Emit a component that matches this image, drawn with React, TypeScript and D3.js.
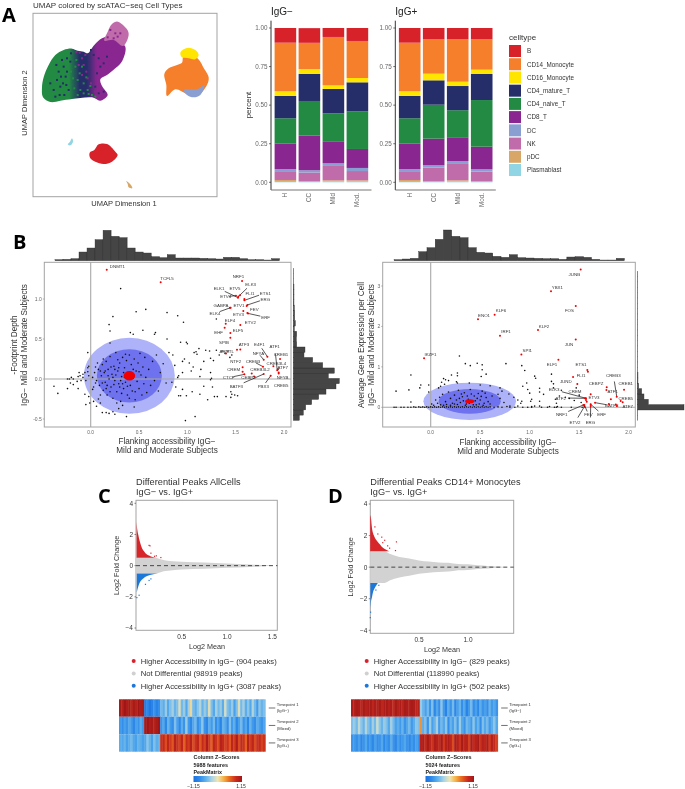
import React from "react";
import * as d3 from "d3";

const FONT = "'Liberation Sans', Arial, sans-serif";
type P = [number, number];
type TF = [string, number, number, number, number, number?];

/* ---------- panel A: UMAP outlines (arbitrary UMAP units) ---------- */
const umapT: P[] = [[215,146],[232,152],[250,155],[262,160],[282,135],[305,115],[332,108],[352,122],[375,140],[366,182],[345,205],[320,225],[300,238],[305,258],[322,285],[300,302],[275,292],[215,297],[180,302],[150,306],[128,292],[125,262],[130,232],[145,195],[165,165],[190,150]];
const umapNK: P[] = [[352,65],[335,72],[320,100],[312,122],[340,120],[368,138],[385,105],[380,88]];
const umapCD14: P[] = [[492,222],[505,205],[530,195],[545,188],[550,168],[585,170],[600,185],[608,200],[625,232],[620,255],[590,288],[560,282],[525,268],[500,288],[498,255]];
const umapCD16: P[] = [[565,143],[585,150],[595,165],[585,178],[565,175],[545,172],[540,158],[550,148]];
const umapDC: P[] = [[550,270],[590,268],[612,255],[600,285],[580,292],[560,285]];
const umapB: P[] = [[295,433],[320,432],[345,455],[352,465],[335,485],[310,492],[285,485],[270,475],[268,458],[282,450]];
const umapPDC: P[] = [[378,543],[392,555],[396,565],[385,562],[382,552]];
const umapPlasma: P[] = [[215,415],[218,425],[210,436],[202,433],[209,425]];
const umapNavySpeck: P[] = [[190,200],[196,230],[180,260],[200,175],[170,240],[205,270],[192,285],[160,270],[175,215],[188,250],[200,215],[210,185],[150,250],[168,195],[185,180],[178,285],[198,255],[212,160],[165,290],[182,230],[295,175],[300,200],[290,220],[310,190],[280,165],[272,150],[320,170],[285,260],[295,280],[310,275]];
const umapGreenSpeck: P[] = [[225,200],[232,240],[240,270],[250,280],[222,265],[238,220],[218,235],[262,270],[275,285],[228,180],[250,250],[265,282],[285,290],[270,258],[212,215],[245,200],[258,232],[232,285]];
const umapCD8Speck: P[] = [[255,165],[245,175],[238,158],[228,156],[250,195],[245,225],[262,235],[272,250],[285,275],[300,290],[258,215],[235,195],[345,100],[330,90],[352,110],[322,112],[360,100],[340,115]];

/* ---------- panel A: stacked bars ---------- */
const cellTypes = ["B","CD14_Monocyte","CD16_Monocyte","CD4_mature_T","CD4_naive_T","CD8_T","DC","NK","pDC","Plasmablast"];
const cellColors = ["#D7202A","#F57F2B","#FFE500","#272E6A","#208A42","#89288F","#8A9FD1","#C06CAB","#D8A767","#90D5E4"];
const conditions = ["H","CC","Mild","Mod."];
const barTicks = [0,.25,.5,.75,1];
const shareB = [.095,.095,.058,.084,.095,.073,.073,.073];
const shareCD14 = [.315,.170,.314,.240,.315,.223,.275,.197];
const shareCD16 = [.030,.032,.023,.028,.030,.043,.028,.028];
const shareMature = [.145,.175,.158,.188,.145,.158,.157,.169];
const shareNaive = [.165,.225,.181,.244,.165,.220,.175,.302];
const shareCD8 = [.165,.224,.143,.123,.165,.173,.154,.147];
const shareDC = [.013,.015,.017,.020,.013,.015,.019,.015];
const shareNK = [.057,.057,.093,.060,.057,.089,.106,.063];
const sharePDC = [.012,.003,.007,.008,.012,.003,.007,.003];
const sharePlasma = [.003,.003,.006,.005,.003,.003,.006,.003];
const allShares = [shareB,shareCD14,shareCD16,shareMature,shareNaive,shareCD8,shareDC,shareNK,sharePDC,sharePlasma];

/* ---------- panel B ---------- */
const histTopB = [3,4,6,26,38,63,91,73,69,38,26,23,12,9,18,8,8,8,7,6,5,10,10,6,3,3,2,6];
const histSideB = [18,30,37,55,76,98,128,138,105,123,88,58,32,35,10,9,10,3,6,4,4,3,2,2,2,2,1,1,1];
const tfB: TF[] = [
["DNMT1",.166,1.367,.276,1.408],["TCFL5",.724,1.208,.79,1.26],["NRF1",1.566,1.225,1.528,1.283],["ELK3",1.528,1.03,1.655,1.179,1],
["ETV5",1.545,1.046,1.493,1.133],["ELK1",1.524,1.017,1.328,1.129,1],["ETV4",1.503,1.042,1.397,1.029,1],["FLI1",1.59,1.0,1.648,1.067],
["ETS1",1.59,.983,1.807,1.075,1],["ERG",1.621,.925,1.807,1.0,1],["ETV1",1.614,.912,1.534,.925],["GABPA",1.441,.892,1.348,.921],
["ELK4",1.448,.892,1.286,.821,1],["FEV",1.579,.85,1.693,.867],["ETV3",1.621,.825,1.528,.812],["ERF",1.628,.82,1.81,.771,1],
["ELF4",1.397,.692,1.441,.737],["ETV2",1.548,.675,1.652,.704],["ELF5",1.445,.575,1.524,.604],["EHF",1.386,.642,1.324,.587],
["SPIB",1.445,.517,1.379,.458],["ATF3",1.514,.367,1.586,.429],["",1.548,.37,1.586,.429],["E4F1",1.828,.279,1.745,.429,1],
["ATF1",1.93,.11,1.903,.408,1],["NFYA",1.79,.24,1.735,.321,1],["CREB1",1.959,.25,1.969,.304],["ARNTL",1.4,.32,1.407,.346],
["NTF2",1.572,.146,1.5,.225],["CREB3",1.783,.154,1.679,.221,1],["CREB3L4",1.89,.158,1.921,.2],["ATF7",1.938,.121,1.986,.146],
["CREM",1.572,.092,1.479,.121],["CREB3L2",1.666,.07,1.752,.117],["CTCF",1.59,.058,1.428,.017,1],["CEBPZ",1.69,.03,1.634,.025],
["NFYB",1.945,.08,1.986,.025],["CREB5",1.945,.07,1.97,-.079],["PBX3",1.862,.04,1.786,-.088,1],["BATF3",1.79,.062,1.507,-.088,1]];
const dotsB: P[] = [[.31,1.13],[.23,.78],[.19,.68],[.47,.84],[.57,.87],[.79,.83],[.9,.79],[.96,.71],[1.3,.75],[.2,.6],[.2,.45],[.41,.58],[.44,.56],[.54,.61],[.67,.58],[.66,.56],[.79,.5],[.93,.46],[.99,.46],[1.0,.44],[1.12,.38],[1.07,.33],[1.1,.31],[1.19,.36],[1.23,.35],[1.17,.22],[1.09,.34],[1.3,.36],[1.27,.23],[1.24,.26],[1.33,.3],[1.36,.35],[1.39,.32],[1.42,.35],[1.46,.3],[1.44,.27],[.81,.33],[.85,.3],[.87,.17],[.95,.22],[.97,.25],[1.02,.2],[1.06,.15],[1.04,.1],[1.14,.12],[1.24,.08],[1.13,.03],[.9,.02],[.95,.08],[.84,-.04],[.91,.04],[.88,-.1],[.95,-.13],[.91,-.21],[.93,-.21],[.99,-.21],[1.05,-.16],[1.13,-.19],[1.21,-.26],[1.17,-.09],[1.24,-.01],[1.26,-.1],[1.25,.01],[1.28,-.22],[1.31,-.22],[1.4,-.22],[1.45,-.16],[1.45,-.23],[1.49,-.2],[1.52,-.21],[1.46,-.19],[.98,-.52],[1.08,-.47],[.37,-.47],[.12,-.42],[.16,-.42],[.19,-.43],[.23,-.41],[.25,-.44],[.29,-.37],[.45,-.35],[.33,-.33],[-.02,-.22],[-.06,-.19],[-.13,-.12],[-.18,-.07],[-.38,-.09],[-.34,-.18],[-.24,-.12],[-.21,-.05],
[-.22,0],[-.2,.02],[-.24,0],[-.18,0],[-.13,.03],[-.11,.04],[-.08,.06],[-.06,.08],[-.03,.09],[-.1,-.02],[-.14,-.03],[-.08,.02],[-.05,-.02],[-.02,.04],[-.12,.08],[-.03,.14],[-.02,.16],[-.03,.33],[-.01,-.3],[.03,-.28],[-.05,-.32],[.06,-.34],[.1,-.3],[.02,-.13],
[.02,.02],[.04,.08],[.06,-.02],[.08,.12],[.09,-.08],[.11,.04],[.12,.18],[.13,-.14],[.14,.08],[.15,-.04],[.16,.22],[.17,-.2],[.18,.12],[.19,0],[.2,.28],[.21,-.1],[.22,.06],[.23,-.24],[.24,.16],[.25,-.02],[.26,.33],[.27,-.16],[.28,.1],[.29,-.06],[.3,.2],[.31,-.28],[.32,.03],[.33,.27],[.34,-.12],[.35,.14],[.36,-.04],[.37,.23],[.38,-.2],[.39,.08],[.4,.3],[.41,-.08],[.42,.18],[.43,-.15],[.44,.01],[.45,.25],[.46,-.26],[.47,.1],[.48,-.03],[.49,.2],[.5,-.12],[.51,.32],[.52,.05],[.53,-.2],[.54,.15],[.55,-.06],[.56,.27],[.57,.02],[.58,-.17],[.6,.12],[.62,-.08],[.64,.22],[.66,-.02],[.68,.3],[.7,-.15],[.72,.08],[.75,.19],[.78,-.05],[.05,.15],[.07,.2],[.1,-.2],[.03,-.1],[.08,-.25],[.13,.25],[.15,.1],[.17,-.08],[.2,-.16],[.23,.02],[.25,.12],[.27,-.3],[.28,.24],[.3,-.1],[.32,-.18],[.34,.08],[.36,.31],[.38,-.09],[.4,-.24],[.42,.06],[.44,.12],[.46,-.16],[.5,.09],[.05,-.05],[.1,.1],[.12,-.05],[.16,-.12],[.18,.04],[.21,.15],[.24,-.07],[.26,.05],[.29,.14],[.31,-.02],[.33,-.06],[.35,.02]];

/* ---------- right scatter ---------- */
const histTopE = [3,5,7,27,39,64,92,73,69,39,25,23,13,10,18,9,8,7,6,6,4,11,12,10,4,2,2,7];
const histSideE = [1,1,140,33,20,13,4,2,2,1,1,1,1,1,1,1,1,1,1,1,1,1,1,1,1,1,1,1];
const tfE: TF[] = [
["JUNB",1.515,3.405,1.451,3.298],["YBX1",1.215,2.869,1.279,2.968],["FOS",1.465,2.506,1.401,2.399],["KLF6",.646,2.292,.71,2.399],
["ENO1",.478,2.176,.539,2.275],["KLF2",1.084,1.913,1.145,2.012],["IRF1",.7,1.772,.761,1.88],["JUN",1.465,1.674,1.397,1.566],
["SPI1",.916,1.303,.976,1.41],["IKZF1",-.067,1.212,-.003,1.311],["ELF1",1.29,1.179,1.226,1.072],["ETS1",1.582,.923,1.519,1.055],
["",1.588,.88,1.519,1.055],["FLI1",1.438,.75,1.519,.8],["JUND",1.481,.577,1.364,.635],["CEBPZ",1.616,.322,1.67,.602],
["CREB3",1.879,.264,1.845,.8,1],["CREB1",1.953,.437,1.97,.602],["ATF1",1.778,.495,1.838,.387],["",1.775,.43,1.838,.387],
["CREB5",1.919,.157,1.97,.231],["ATF7",1.939,.124,1.99,.033],["ETV3",1.576,.14,1.65,.239],["ELK3",1.569,.223,1.246,.437,1],
["CREM",1.569,.181,1.458,.396],["ATF2",1.559,.223,1.313,.231,1],["NRF1",1.542,.058,1.323,-.173,1],["ETV2",1.552,.016,1.458,-.371,1],
["ERG",1.616,.033,1.613,-.371,1],["FEV",1.552,.058,1.593,-.173,1],["ERF",1.616,.074,1.727,-.165,1],["BATF3",1.66,.115,1.828,.041,1],
["",1.82,.2,1.82,.2],["",1.87,.07,1.87,.07],["",1.88,.03,1.88,.03],["",1.8,.08,1.8,.08]];
const dotsE: P[] = [[.29,1.27],[.35,1.08],[.4,1.03],[.47,1.09],[.52,1.05],[.76,1.08],[.92,1.03],[.95,.91],[.52,.93],[.51,.76],[.56,.82],[.27,.85],[.21,.8],[.27,.78],[.13,.71],[.15,.68],[.11,.62],[.18,.66],[.26,.63],[.1,.52],[-.2,.8],[-.1,.55],[-.11,.48],[-.02,.38],[-.02,.55],[-.35,.4],[-.22,.43],[-.2,.13],[.08,.48],[.14,.57],[.27,.6],[.39,.6],[.5,.55],[.6,.53],[.7,.48],[.72,.4],[.79,.33],[.84,.25],[.88,.18],[.93,.52],[.98,.44],[.97,.6],[1.05,.77],[1.06,.72],[1.0,.35],[1.02,.2],[1.01,.15],[1.1,.15],[1.1,.47],[1.1,.38],[1.14,.32],[1.22,.82],[1.22,.64],[1.24,.58],[1.24,.48],[1.27,.1],[1.26,.2],[1.3,.28],[1.32,.42],[1.36,.25],[1.4,.22],[1.47,.48],[1.45,.17],[1.5,.3],[1.52,.12],[1.28,.02],[1.2,.02],[1.05,.03],[1.1,.03],[1.02,.02],[.92,.15],[.91,.1],[.88,.03],[.8,.03],[.77,.02],[.74,.12],[.7,.22],[.68,.32],[.62,.28],
[.05,.18],[.09,.25],[.12,.32],[.15,.14],[.18,.38],[.2,.22],[.22,.1],[.24,.3],[.26,.18],[.28,.42],[.3,.12],[.32,.26],[.34,.36],[.36,.08],[.38,.2],[.4,.44],[.42,.14],[.44,.28],[.46,.06],[.48,.34],[.5,.18],[.52,.4],[.54,.1],[.56,.24],[.58,.14],[.6,.08],[.24,.08],[.27,.07],[.29,.22],[.31,.33],[.33,.16],[.35,.05],[.37,.28],[.39,.1],[.41,.33],[.43,.06],[.45,.16],[.47,.22],[.49,.08],[.51,.27],[.53,.05],[.55,.35],[.2,.05],[.16,.07],[.13,.05],[.1,.06],[.07,.1],[.03,.05],[.01,.08],
[-.35,0],[-.37,0],[-.3,0],[-.27,0],[-.23,0],[-.2,0],[-.17,.01],[-.15,0],[-.12,.01],[-.1,0],[-.08,.01],[-.06,0],[-.04,.01],[-.02,0],[0,.01],[.02,0],[.04,.01],[.06,0],[.08,.01],[.1,0],[.12,.01],[.14,0],[.16,.01],[.18,0],[.2,.01],[.22,0],[.24,.01],[.26,0],[.28,.01],[.3,0],[.32,.01],[.34,0],[.36,.01],[.38,0],[.4,.01],[.42,0],[.44,.01],[.46,0],[.48,.01],[.5,0],[.52,.01],[.54,0],[.56,.01],[.58,0],[.6,.01],[.64,0],[.68,.01],[.72,0],[.8,0],[.85,0],[.93,0],[.98,0],[1.02,0],[1.12,0],[1.18,0],[1.25,0],[1.27,0],[1.32,0],[1.42,0],[1.53,0]];

/* ---------- MA plots ---------- */
const maTicksY = [-4,-2,0,2,4];
const greyC: [number,number][] = [[.002,.5],[.2,.5],[.25,.45],[.3,.36],[.4,.29],[.5,.25],[.75,.2],[1.0,.13],[1.25,.08],[1.45,.03],[1.5,.01]];
const redC: [number,number][] = [[.002,2.8],[.01,2.3],[.02,2.0],[.04,1.5],[.06,1.15],[.08,.95],[.1,.8],[.14,.65],[.18,.55],[.22,.5]];
const blueC: [number,number][] = [[.004,-1.7],[.02,-1.35],[.04,-1.05],[.07,-.85],[.1,-.72],[.15,-.6],[.2,-.53],[.24,-.5]];
const outRedC: P[] = [[.14,1.3],[.15,1.27],[.2,.6],[.22,.63],[.27,.52],[.16,.8]];
const outBlueC: P[] = [[.1,-1.2],[.14,-.95],[.16,-.85],[.03,-1.9],[.005,-2.05]];
const greyD: [number,number][] = [[.002,1],[.15,1],[.2,.85],[.3,.65],[.4,.55],[.5,.42],[.6,.35],[.7,.3],[.8,.28],[.9,.2],[1.0,.18],[1.1,.12],[1.2,.08],[1.3,.04],[1.4,.01]];
const redD: [number,number][] = [[.002,3.3],[.01,3.1],[.02,2.5],[.04,2.0],[.06,1.75],[.08,1.6],[.1,1.45],[.12,1.3],[.15,1.15],[.18,1.05],[.2,1]];
const blueD: [number,number][] = [[.004,-2.6],[.01,-2.2],[.02,-1.9],[.03,-1.6],[.05,-1.3],[.07,-1.1],[.08,-1]];
const outRedD: P[] = [[.27,1.6],[.15,1.7],[.13,1.55],[.18,1.35],[.2,1.2],[.05,2.55],[.08,2.1],[.26,1.05],[.12,1.9]];
const outBlueD: P[] = [[.003,-3.2],[.006,-2.85],[.09,-1.15],[.06,-1.45]];

/* ---------- heatmaps (z-scores, one array per row) ---------- */
const heatC1 = [1.1,1,1.15,1.05,1.1,.95,1.1,1,1.15,1.05,1.1,-1,-.9,-1.05,-.95,-.8,-.95,-.85,-.5,-.6,-.35,-.65,-.45,-.3,-.55,-.45,-.05,-.5,-.35,-.65,-.3,.05,-.5,-.6,-.4,-.25,-.55,-.35,-.5,0,-.45,-.65,-.3,-.5,-.35,-.6,-.1,-.45,-.55,-.35,-.7,-.45,-.05,-.5,-.3,-.6,-.4,-.65,-.25,-.5,-.75,-.4,-.55,-.45];
const heatC2 = [-.75,-.85,-.7,-.8,-.65,-.75,-.9,-.7,-.8,-.6,-.75,1.1,1.15,1.05,1.1,1,1.1,1.15,-.8,-.65,-.9,-.55,-.75,-.85,-.45,-.7,-.9,-.6,-.8,-.35,-.75,-.9,-.65,-.5,-.85,-.7,-.4,-.8,-.9,-.6,-.75,-.5,-.85,-.7,-.95,-.55,-.65,-.85,-.45,-.75,-.6,-.9,-.7,-.5,-.8,-.65,-.9,-.55,-.75,-.85,-.6,-.7,-.8,-.65];
const heatC3 = [-.6,-.65,-.55,-.7,-.6,-.5,-.65,-.7,-.55,-.6,-.7,-.65,-.4,-.55,-.7,-.45,-.6,-.55,.85,.9,.7,.95,.8,.65,1,.85,.75,.95,.6,.9,.8,1,.7,.85,.95,.65,.9,.75,1.05,.8,.6,.95,.85,.7,1,.9,.75,.85,.65,.95,.8,1.05,.7,.9,.85,.6,1,.8,.95,.7,.85,.9,.75,.85];
const heatD1 = [1.05,1,1.1,1.05,.95,1.1,1,1.05,1.1,.95,1.05,1,1.1,.95,1.05,1.1,1,1.05,.9,1.1,1,1.05,.95,1.1,1.05,1,1.1,1.05,.95,1,-.35,-.55,-.7,-.5,-.8,-.45,-.9,-.65,-.85,-.4,-.75,-.95,-.6,-.8,-.5,-.9,-.7,-.55,-.85,-.65,-.95,-.75,-.5,-.85,-.7,-.9,-.6,-.8,-.7,-.85,-.55,-.75,-.65,-.8];
const heatD2 = [-.45,-.35,-.5,-.2,-.4,-.55,-.25,-.45,-.6,-.3,-.5,-.15,-.4,-.55,-.35,-.45,-.65,-.3,-.5,-.7,-.6,-.75,-.55,-.8,-.65,-.5,-.75,-.6,-.4,-.45,.4,-.6,-.45,-.8,-.35,-.7,-.55,-.3,-.75,-.5,-.65,-.4,-.85,-.55,-.7,-.45,-.75,-.35,-.65,-.8,-.5,-.6,-.75,-.4,-.7,-.55,-.85,-.45,-.65,-.5,-.75,-.6,-.4,-.65];
const heatD3 = [-.8,-.75,-.85,-.7,-.9,-.8,-.65,-.85,-.75,-.9,-.7,-.85,-.8,-.65,-.9,-.75,-.85,-.6,-.8,-.9,-.7,-.85,-.75,-.65,-.8,-.9,-.75,-.85,-.7,-.8,1,1.05,.9,1.1,.95,.85,1.05,1,.9,1.1,.8,1,1.05,.95,.7,1.05,1,.85,1.1,.95,1,.75,1.05,.9,1,1.1,.85,1,.95,1.05,.8,1,.9,.75];
const heatStops = ["#1B6FDE","#2F8BEA","#5DB1EC","#A9D3E6","#EFE7B4","#F6B043","#E8641F","#C92A20","#A01818"];
const zScale = d3.scaleSequential(d3.interpolateRgbBasis(heatStops)).domain([-1.15,1.15]);

const TXT = "#333";
const GREY = "#A3A3A3";

const linePath = (pts: P[], x: any, y: any) =>
  d3.line<P>().x(d => x(d[0])).y(d => y(d[1])).curve(d3.curveCatmullRomClosed.alpha(.5))(pts) as string;

function Umap() {
  const x = d3.scaleLinear().domain([98,650]).range([33,217]);
  const y = d3.scaleLinear().domain([40,590]).range([13.3,196.7]);
  const blobs: [P[], string][] = [[umapT,"url(#tgrad)"],[umapNK,cellColors[7]],[umapCD14,cellColors[1]],[umapCD16,cellColors[2]],[umapDC,cellColors[6]],[umapB,cellColors[0]],[umapPDC,cellColors[8]],[umapPlasma,cellColors[9]]];
  const specks: [P[], string][] = [[umapNavySpeck,cellColors[3]],[umapGreenSpeck,cellColors[4]],[umapCD8Speck,cellColors[5]]];
  return <g>
    <text x={33} y={8} fontSize={8} fill={TXT}>UMAP colored by scATAC−seq Cell Types</text>
    <rect x={33} y={13.3} width={184} height={183.4} fill="#fff" stroke={GREY} strokeWidth={1}/>
    <linearGradient id="tgrad" gradientUnits="userSpaceOnUse" x1={x(185)} x2={x(290)} y1={0} y2={0}>
      <stop offset="0" stopColor={cellColors[4]}/>
      <stop offset=".2" stopColor={cellColors[4]}/>
      <stop offset=".5" stopColor={cellColors[3]}/>
      <stop offset=".72" stopColor={cellColors[3]}/>
      <stop offset="1" stopColor={cellColors[5]}/>
    </linearGradient>
    {blobs.map(([p,c],i)=><path key={i} d={linePath(p,x,y)} fill={c}/>)}
    {specks.map(([p,c],i)=>p.map((d,j)=><rect key={i+"-"+j} x={x(d[0])-1} y={y(d[1])-1} width={2} height={2} fill={c}/>))}
    <text x={124} y={206} textAnchor="middle" fontSize={7.5} fill={TXT}>UMAP Dimension 1</text>
    <text transform="translate(27,103) rotate(-90)" textAnchor="middle" fontSize={7.5} fill={TXT}>UMAP Dimension 2</text>
  </g>;
}

function Bars({left,offset,title}:{left:number,offset:number,title:string}) {
  const x = d3.scaleBand().domain(conditions).range([left+2.4,left+98.4]).paddingInner(.1).paddingOuter(.05);
  const y = d3.scaleLinear().domain([0,1]).range([182.3,28]);
  const rows = conditions.map((c,i)=>{ const r:any={c}; cellTypes.forEach((t,k)=>r[t]=allShares[k][i+offset]); return r; });
  const series = d3.stack().keys([...cellTypes].reverse())(rows);
  return <g>
    <text x={left} y={14.5} fontSize={10} fill="#222">{title}</text>
    {series.map(s=>{ const c=cellColors[cellTypes.indexOf(s.key)];
      return s.map((d,i)=><rect key={s.key+i} x={x(conditions[i])} width={x.bandwidth()} y={y(d[1])} height={Math.max(0,y(d[0])-y(d[1]))} fill={c}/>);})}
    <line x1={left} x2={left} y1={20.7} y2={190} stroke="#333" strokeWidth={1}/>
    <line x1={left} x2={left+100.5} y1={190} y2={190} stroke="#777" strokeWidth={1.2}/>
    {barTicks.map(t=><g key={t}>
      <line x1={left-2} x2={left} y1={y(t)} y2={y(t)} stroke="#333" strokeWidth={.7}/>
      <text x={left-3.5} y={y(t)+2.2} textAnchor="end" fontSize={6.3} fill="#666">{d3.format(".2f")(t)}</text>
    </g>)}
    {conditions.map(c=><text key={c} transform={`translate(${x(c)!+x.bandwidth()/2+2},193) rotate(-90)`} textAnchor="end" fontSize={6.3} fill="#666">{c}</text>)}
  </g>;
}

function CellLegend() {
  const y = d3.scalePoint().domain(cellTypes).range([45,164]);
  return <g>
    <text x={509} y={40} fontSize={8} fill={TXT}>celltype</text>
    {cellTypes.map((t,i)=><g key={t}>
      <rect x={509} y={y(t)} width={12} height={12} fill={cellColors[i]}/>
      <text x={527} y={y(t)!+8.3} fontSize={6.3} fill={TXT}>{t}</text>
    </g>)}
  </g>;
}

function Hists({x,y,top,side,topBase,sideBase,topStart,topW,sideStart,sideW}:any) {
  const hT = d3.scaleLinear().domain([0,110]).range([topBase,topBase-36.7]);
  const hS = d3.scaleLinear().domain([0,140]).range([sideBase,sideBase+46.7]);
  return <g>
    {top.map((v:number,i:number)=><rect key={"t"+i} x={x(topStart+i*topW)} width={x(topW)-x(0)} y={hT(v)} height={topBase-hT(v)} fill="#444" stroke="#2a2a2a" strokeWidth={.4}/>)}
    {side.map((v:number,i:number)=><rect key={"s"+i} x={sideBase} width={hS(v)-sideBase} y={y(sideStart+(i+1)*sideW)} height={y(0)-y(sideW)} fill="#444" stroke="#2a2a2a" strokeWidth={.4}/>)}
  </g>;
}

function Labels({tfs,x,y}:{tfs:TF[],x:any,y:any}) {
  return <g>
    {tfs.map(([n,px,py,lx,ly,lead],i)=>{
      const x0=x(lx),y0=y(ly),x1=x(px),y1=y(py);
      const dx=x1-x0,dy=y1-y0,len=Math.hypot(dx,dy)||1;
      const gap=Math.min(8,len*.3);
      return <g key={i}>
        {lead?<line x1={x0+dx/len*gap} y1={y0+dy/len*gap} x2={x1} y2={y1} stroke="#111" strokeWidth={.7}/>:null}
        <circle cx={x1} cy={y1} r={1} fill="#F00000"/>
        {n?<text x={x0} y={y0+1.6} textAnchor="middle" fontSize={4.4} fill="#333">{n}</text>:null}
      </g>;
    })}
  </g>;
}

function Scatter({l,r,t,b,x0,x2,y0,yU,yTop,yTicks,ell,dots,tfs,histT,histS,topStart,topW,sideStart,sideW,topBase,sideBase,yL1,yL2,yLx1,yLx2,xLc,xLy}:any) {
  const x = d3.scaleLinear().domain([0,2]).range([x0,x2]);
  const y = d3.scaleLinear().domain([0,yTop]).range([y0,yU]);
  const E=(cx:number,cy:number,rx:number,ry:number,f:string)=><ellipse cx={x(cx)} cy={y(cy)} rx={x(rx)-x(0)} ry={y(0)-y(ry)} fill={f}/>;
  return <g>
    <Hists x={x} y={y} top={histT} side={histS} topBase={topBase} sideBase={sideBase} topStart={topStart} topW={topW} sideStart={sideStart} sideW={sideW}/>
    <rect x={l} y={t} width={r-l} height={b-t} fill="#fff" stroke={GREY} strokeWidth={1}/>
    {E(ell[0],ell[1],ell[2],ell[3],"#AEB2F8")}
    {E(ell[0],ell[1],ell[4],ell[5],"#6E72EE")}
    <line x1={x(0)} x2={x(0)} y1={t} y2={b} stroke="#A8A8A8" strokeWidth={1.1}/>
    <line x1={l} x2={r} y1={y(0)} y2={y(0)} stroke="#A8A8A8" strokeWidth={1.1}/>
    {dots.map((d:P,i:number)=><circle key={i} cx={x(d[0])} cy={y(d[1])} r={.8} fill="#111"/>)}
    {E(ell[0],ell[1],ell[6],ell[7],"#F00000")}
    <Labels tfs={tfs} x={x} y={y}/>
    {[0,.5,1,1.5,2].map(v=><text key={v} x={x(v)} y={b+6.5} textAnchor="middle" fontSize={4.8} fill="#666">{v.toFixed(1)}</text>)}
    {yTicks.map((v:number)=><g key={v}>
      <line x1={l-1.5} x2={l} y1={y(v)} y2={y(v)} stroke="#888" strokeWidth={.6}/>
      <text x={l-2.5} y={y(v)+1.8} textAnchor="end" fontSize={5} fill="#666">{yTop>2?String(v):v.toFixed(1)}</text></g>)}
    <text transform={`translate(${yLx1},345) rotate(-90)`} textAnchor="middle" fontSize={8.2} fill={TXT}>{yL1}</text>
    <text transform={`translate(${yLx2},345) rotate(-90)`} textAnchor="middle" fontSize={8.2} fill={TXT}>{yL2}</text>
    <text x={xLc} y={xLy} textAnchor="middle" fontSize={8.2} fill={TXT}>Flanking accessibility IgG−</text>
    <text x={xLc} y={xLy+9.4} textAnchor="middle" fontSize={8.2} fill={TXT}>Mild and Moderate Subjects</text>
  </g>;
}

function MA({l,r,t,b,x05,x10,y4,yN4,xTicks,grey,red,blue,outR,outB,title,legend,legX,xLab,yLabX}:any) {
  const x = d3.scaleLinear().domain([.5,1]).range([x05,x10]);
  const y = d3.scaleLinear().domain([-4,4]).range([yN4,y4]);
  const band=(arr:[number,number][],f:string,inner:number)=>{
    const a=d3.area<[number,number]>().x(d=>x(d[0])).y0(d=>y(inner)).y1(d=>y(d[1])).curve(d3.curveMonotoneX);
    return <path d={a(arr) as string} fill={f}/>;
  };
  const sym=d3.area<[number,number]>().x(d=>x(d[0])).y0(d=>y(-d[1])).y1(d=>y(d[1])).curve(d3.curveMonotoneX);
  const legendColors=["#D7202A","#D0D0D0","#1F78D8"];
  return <g>
    <text x={l} y={485} fontSize={9.2} fill={TXT}>{title}</text>
    <text x={l} y={494.5} fontSize={9.2} fill={TXT}>IgG− vs. IgG+</text>
    <rect x={l} y={t} width={r-l} height={b-t} fill="#fff" stroke={GREY} strokeWidth={1}/>
    <path d={sym(grey) as string} fill="#D2D2D2"/>
    {band(red,"#D7262C",grey[0][1])}
    {band(blue,"#1F78D8",-grey[0][1])}
    {outR.map((d:P,i:number)=><rect key={i} x={x(d[0])-.6} y={y(d[1])-.6} width={1.2} height={1.2} fill="#D7262C"/>)}
    {outB.map((d:P,i:number)=><rect key={i} x={x(d[0])-.6} y={y(d[1])-.6} width={1.2} height={1.2} fill="#1F78D8"/>)}
    <line x1={l} x2={r} y1={y(0)} y2={y(0)} stroke="#222" strokeWidth={.8} strokeDasharray="4 3"/>
    {maTicksY.map(v=><g key={v}>
      <line x1={l-1.5} x2={l} y1={y(v)} y2={y(v)} stroke="#555" strokeWidth={.7}/>
      <text x={l-3} y={y(v)+2.4} textAnchor="end" fontSize={6.5} fill={TXT}>{v<0?"−"+(-v):v}</text>
    </g>)}
    {xTicks.map((v:number)=><text key={v} x={x(v)} y={b+8.5} textAnchor="middle" fontSize={6.5} fill={TXT}>{v.toFixed(1)}</text>)}
    <text x={xLab} y={b+19} textAnchor="middle" fontSize={7.2} fill={TXT}>Log2 Mean</text>
    <text transform={`translate(${yLabX},${(t+b)/2}) rotate(-90)`} textAnchor="middle" fontSize={7.2} fill={TXT}>Log2 Fold Change</text>
    {legend.map((s:string,i:number)=><g key={i}>
      <circle cx={legX} cy={661+i*12.4} r={2} fill={legendColors[i]}/>
      <text x={legX+7} y={663.7+i*12.4} fontSize={7.7} fill={TXT}>{s}</text>
    </g>)}
  </g>;
}

function Heat({l,r,rows,features,barX}:any) {
  const x = d3.scaleBand<number>().domain(d3.range(rows[0].length)).range([l,r]);
  const y = d3.scaleBand<number>().domain([0,1,2]).range([699.3,751.7]);
  const names=[["Timepoint 1","(IgG−)"],["Timepoint 2","(Mixed)"],["Timepoint 3","(IgG+)"]];
  const bar = d3.scaleLinear().domain([-1.15,1.15]).range([barX,barX+48.5]);
  const id = "grad"+Math.round(l);
  return <g>
    {rows.map((row:number[],ri:number)=>row.map((z,ci)=><rect key={ri+"-"+ci} x={x(ci)} y={y(ri)} width={x.bandwidth()+.4} height={y.bandwidth()} fill={zScale(z)}/>))}
    {names.map((n,i)=><g key={i}>
      <line x1={r+3.5} x2={r+10} y1={y(i)!+8.7} y2={y(i)!+8.7} stroke="#333" strokeWidth={.7}/>
      <text x={r+11.5} y={y(i)!+6.5} fontSize={4.2} fill="#333">{n[0]}</text>
      <text x={r+11.5} y={y(i)!+13} fontSize={4.2} fill="#333">{n[1]}</text>
    </g>)}
    <text x={barX} y={759} fontSize={5.4} fontWeight="bold" fill="#222">Column Z−Scores</text>
    <text x={barX} y={766.5} fontSize={5.4} fontWeight="bold" fill="#222">{features}</text>
    <text x={barX} y={774} fontSize={5.4} fontWeight="bold" fill="#222">PeakMatrix</text>
    <linearGradient id={id}>{heatStops.map((c,i)=><stop key={i} offset={i/(heatStops.length-1)} stopColor={c}/>)}</linearGradient>
    <rect x={bar(-1.15)} y={776} width={48.5} height={6} fill={`url(#${id})`}/>
    <text x={bar(-1.15)} y={788} textAnchor="middle" fontSize={5} fill="#333">−1.15</text>
    <text x={bar(1.15)-1} y={788} textAnchor="middle" fontSize={5} fill="#333">1.15</text>
  </g>;
}

export default function App() {
  return <svg width={685} height={789} viewBox="0 0 685 789" style={{position:"absolute",left:0,top:0,fontFamily:FONT,background:"#fff"}}>
    <filter id="soft" filterUnits="userSpaceOnUse" x={0} y={0} width={685} height={789}><feGaussianBlur stdDeviation={0.35}/></filter>
    <g filter="url(#soft)">
    <Umap/>
    <Bars left={271} offset={0} title="IgG−"/>
    <Bars left={395.3} offset={4} title="IgG+"/>
    <text transform="translate(250.5,105) rotate(-90)" textAnchor="middle" fontSize={8} fill={TXT}>percent</text>
    <CellLegend/>
    <Scatter l={44.3} r={291} t={262.3} b={427} x0={90.7} x2={284} y0={379} yU={299} yTop={1} yTicks={[-.5,0,.5,1]} ell={[.4,.04,.47,.475,.336,.333,.06,.06]} dots={dotsB} tfs={tfB} histT={histTopB} histS={histSideB} topStart={-.37} topW={.083} sideStart={-.517} sideW={.0655} topBase={260.7} sideBase={293.3} yL1="-Footprint Depth" yL2="IgG− Mild and Moderate Subjects" yLx1={17} yLx2={27} xLc={167} xLy={444}/>
    <Scatter l={382.7} r={635.3} t={262.3} b={427} x0={430.7} x2={628.7} y0={407.3} yU={286} yTop={3} yTicks={[0,1,2,3]} ell={[.394,.148,.468,.462,.313,.305,.047,.05]} dots={dotsE} tfs={tfE} histT={histTopE} histS={histSideE} topStart={-.37} topW={.0831} sideStart={-.33} sideW={.132} topBase={260.7} sideBase={637.3} yL1="Average Gene Expression per Cell" yL2="IgG− Mild and Moderate Subjects" yLx1={364} yLx2={373.5} xLc={508} xLy={445}/>
    <MA l={136} r={277.3} t={500.3} b={630.3} x05={181.7} x10={227} y4={503.3} yN4={628} xTicks={[.5,1,1.5]} grey={greyC} red={redC} blue={blueC} outR={outRedC} outB={outBlueC} title="Differential Peaks AllCells" xLab={207} yLabX={119} legX={133.7} legend={["Higher Accessibility in IgG− (904 peaks)","Not Differential (98919 peaks)","Higher Accessibility in IgG+ (3087 peaks)"]}/>
    <MA l={370.3} r={513.7} t={500.3} b={633.3} x05={419} x10={468} y4={504} yN4={630.3} xTicks={[.5,1]} grey={greyD} red={redD} blue={blueD} outR={outRedD} outB={outBlueD} title="Differential Peaks CD14+ Monocytes" xLab={442} yLabX={353} legX={366.7} legend={["Higher Accessibility in IgG− (829 peaks)","Not Differential (118990 peaks)","Higher Accessibility in IgG+ (502 peaks)"]}/>
    <Heat l={119} r={265.3} rows={[heatC1,heatC2,heatC3]} features="5988 features" barX={193.5}/>
    <Heat l={351} r={497.7} rows={[heatD1,heatD2,heatD3]} features="5024 features" barX={425.5}/>
    {[["A",2,22],["B",13,249],["C",98,503],["D",328,503]].map(([s,x,y])=><text key={s as string} x={x as number} y={y as number} fontSize={20} fontWeight="bold" fontFamily="'Open Sans', sans-serif" fill="#000">{s}</text>)}
    </g>
  </svg>;
}
